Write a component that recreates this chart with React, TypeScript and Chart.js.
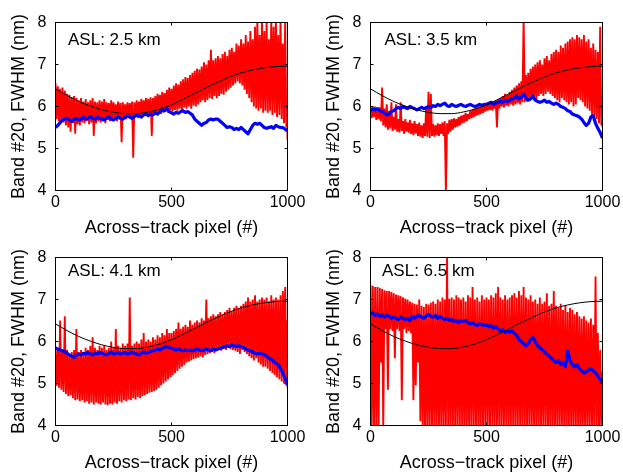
import React, { useEffect, useRef } from "react";
import { Chart, registerables } from "chart.js";

Chart.register(...registerables);

const FONT = '"Liberation Sans", Arial, Helvetica, sans-serif';
const X_TITLE = "Across\u2212track pixel (#)";
const Y_TITLE = "Band #20, FWHM (nm)";
const X_TICKS = [0, 500, 1000];
const Y_TICKS = [4, 5, 6, 7, 8];

// smooth reference curve, sampled every 50 pixels
const CURVE = [6.42, 6.26, 6.12, 6.01, 5.92, 5.86, 5.83, 5.83, 5.87, 5.94, 6.04,
  6.17, 6.31, 6.45, 6.58, 6.7, 6.8, 6.87, 6.92, 6.95, 6.96];

// red series: upper / lower envelope every 10 pixels; blue every 10 pixels
const TL_RED_HI = [6.55, 6.48, 6.42, 6.45, 6.38, 6.3, 6.28, 6.22, 6.25, 6.2,
  6.15, 6.2, 6.12, 6.18, 6.1, 6.15, 6.2, 6.12, 6.1, 6.15,
  6.12, 6.18, 6.1, 6.08, 6.15, 6.1, 6.05, 6.12, 6.08, 6.1,
  6.05, 6.1, 6.08, 6.12, 6.1, 6.15, 6.12, 6.18, 6.15, 6.2,
  6.18, 6.22, 6.2, 6.25, 6.3, 6.28, 6.35, 6.32, 6.4, 6.45,
  6.42, 6.5, 6.55, 6.52, 6.6, 6.65, 6.7, 6.68, 6.75, 6.8,
  6.85, 6.9, 6.88, 6.95, 7.05, 7.0, 7.1, 7.35, 7.1, 7.15,
  7.2, 7.15, 7.25, 7.3, 7.2, 7.35, 7.4, 7.3, 7.5, 7.45,
  7.6, 7.5, 7.7, 7.55, 7.8, 7.6, 7.9, 8.1, 7.7, 8.1,
  7.8, 8.1, 7.6, 8.1, 7.9, 8.1, 7.7, 8.1, 7.5, 8.1, 6.0];
const TL_RED_LO = [5.7, 5.65, 5.6, 5.62, 5.55, 5.5, 5.4, 5.6, 5.35, 5.58,
  5.55, 5.62, 5.6, 5.65, 5.58, 5.62, 5.3, 5.6, 5.65, 5.62,
  5.65, 5.6, 5.68, 5.65, 5.7, 5.68, 5.65, 5.7, 5.15, 5.72,
  5.7, 5.75, 5.72, 4.78, 5.75, 5.72, 5.78, 5.75, 5.8, 5.78,
  5.8, 5.3, 5.82, 5.8, 5.85, 5.82, 5.85, 5.88, 5.85, 5.9,
  5.88, 5.92, 5.9, 5.95, 5.92, 5.98, 5.95, 6.0, 5.95, 6.02,
  6.0, 6.05, 6.1, 6.15, 6.1, 6.15, 6.2, 6.18, 6.25, 6.2,
  6.25, 6.3, 6.28, 6.35, 6.4, 6.45, 6.5, 6.55, 6.6, 6.55,
  6.5, 6.4, 6.3, 6.2, 6.1, 6.0, 5.95, 5.9, 5.95, 5.85,
  5.9, 5.85, 5.9, 5.8, 5.85, 5.75, 5.8, 5.7, 5.6, 5.5, 5.2];
const TL_BLUE = [5.5, 5.55, 5.62, 5.68, 5.7, 5.72, 5.68, 5.65, 5.7, 5.72,
  5.68, 5.7, 5.74, 5.7, 5.72, 5.76, 5.72, 5.7, 5.74, 5.72,
  5.7, 5.68, 5.72, 5.75, 5.7, 5.68, 5.72, 5.75, 5.72, 5.7,
  5.74, 5.78, 5.75, 5.72, 5.76, 5.8, 5.78, 5.75, 5.8, 5.82,
  5.78, 5.82, 5.8, 5.85, 5.82, 5.88, 5.92, 5.9, 5.95, 5.88,
  5.85, 5.82, 5.86, 5.84, 5.88, 5.9, 5.86, 5.88, 5.84, 5.8,
  5.7, 5.65, 5.6, 5.55, 5.6, 5.62, 5.68, 5.7, 5.68, 5.7,
  5.7, 5.65, 5.6, 5.55, 5.5, 5.52, 5.5, 5.45, 5.48, 5.45,
  5.5, 5.45, 5.4, 5.35, 5.45, 5.55, 5.6, 5.58, 5.6, 5.55,
  5.5, 5.48, 5.5, 5.52, 5.48, 5.55, 5.52, 5.5, 5.5, 5.46, 5.42];

const TR_RED_HI = [5.98, 5.95, 6.0, 5.95, 5.98, 6.45, 5.95, 6.05, 5.9, 6.1,
  5.75, 6.05, 5.7, 6.1, 5.65, 5.7, 5.62, 5.68, 5.6, 5.65,
  5.58, 5.62, 5.55, 5.6, 6.0, 6.35, 6.3, 5.58, 5.55, 5.6,
  5.58, 5.62, 5.65, 5.6, 5.68, 5.7, 5.72, 5.7, 5.75, 5.78,
  5.8, 5.85, 5.82, 5.9, 5.92, 5.95, 5.98, 6.0, 6.02, 6.05,
  6.08, 6.1, 6.12, 6.1, 6.15, 6.18, 6.2, 6.25, 6.3, 6.28,
  6.35, 6.4, 6.45, 6.5, 6.55, 6.6, 8.1, 6.75, 6.8, 6.9,
  6.95, 7.0, 7.05, 7.1, 7.0, 7.15, 7.2, 7.1, 7.25, 7.3,
  7.35, 7.3, 7.45, 7.4, 7.5, 7.55, 7.6, 7.65, 7.6, 7.7,
  7.65, 7.6, 7.7, 7.55, 7.6, 7.4, 7.5, 7.35, 7.3, 7.9, 5.6];
const TR_RED_LO = [5.72, 5.75, 5.68, 5.7, 5.65, 5.55, 5.5, 5.45, 5.48, 5.42,
  5.45, 5.4, 5.38, 5.42, 5.35, 5.4, 5.38, 5.35, 5.32, 5.36,
  5.3, 5.28, 5.25, 5.3, 5.28, 5.25, 5.3, 5.28, 5.32, 5.3,
  5.35, 5.3, 3.95, 5.35, 5.4, 5.45, 5.5, 5.52, 5.55, 5.6,
  5.62, 5.65, 5.7, 5.72, 5.75, 5.78, 5.8, 5.82, 5.85, 5.88,
  5.9, 5.92, 5.9, 5.95, 5.5, 5.95, 6.0, 5.98, 6.02, 6.0,
  6.05, 6.02, 6.05, 6.08, 6.05, 6.1, 6.1, 6.12, 6.15, 6.2,
  6.2, 6.15, 6.25, 6.3, 6.25, 6.3, 6.35, 6.3, 6.25, 6.2,
  6.15, 6.1, 6.2, 6.15, 6.1, 6.05, 6.1, 6.0, 6.05, 6.2,
  6.15, 6.1, 6.0, 5.95, 5.9, 5.8, 5.75, 5.7, 5.6, 5.55, 5.5];
const TR_BLUE = [5.9, 5.95, 5.92, 5.95, 5.9, 5.88, 5.85, 5.8, 5.82, 5.88,
  5.9, 5.95, 5.98, 5.95, 6.0, 5.97, 5.95, 6.0, 5.97, 5.95,
  5.92, 5.95, 5.98, 5.95, 5.97, 6.0, 5.98, 6.02, 6.0, 6.05,
  6.02, 6.05, 6.08, 6.02, 6.0, 6.05, 6.02, 6.0, 6.03, 6.05,
  6.02, 6.0, 6.03, 6.05, 6.02, 6.0, 6.02, 6.05, 6.03, 6.05,
  6.05, 6.08, 6.1, 6.05, 6.08, 6.1, 6.12, 6.1, 6.15, 6.12,
  6.15, 6.18, 6.2, 6.25, 6.18, 6.22, 6.3, 6.2, 6.15, 6.18,
  6.25, 6.15, 6.12, 6.1, 6.12, 6.15, 6.1, 6.12, 6.08, 6.05,
  6.08, 6.05, 6.0, 5.98, 5.95, 5.9, 5.88, 5.82, 5.8, 5.78,
  5.75, 5.7, 5.62, 5.55, 5.6, 5.75, 5.78, 5.6, 5.48, 5.38, 5.25];

const BL_RED_HI = [5.85, 5.8, 6.5, 5.75, 6.6, 5.8, 5.7, 5.75, 5.8, 6.3,
  5.75, 5.8, 5.7, 5.85, 5.8, 5.9, 6.1, 5.85, 5.8, 5.9,
  5.85, 5.9, 5.8, 5.85, 6.0, 5.85, 6.3, 5.9, 5.85, 5.95,
  5.9, 5.95, 7.05, 5.9, 5.95, 6.0, 5.95, 6.05, 6.2, 6.0,
  6.05, 6.0, 6.1, 6.05, 6.15, 6.1, 6.2, 6.15, 6.3, 6.2,
  6.2, 6.25, 6.3, 6.45, 6.3, 6.35, 6.4, 6.35, 6.5, 6.4,
  6.45, 6.5, 6.45, 6.55, 6.5, 7.0, 6.55, 6.6, 6.65, 6.6,
  6.65, 6.7, 6.65, 6.7, 6.75, 6.8, 6.72, 6.8, 6.85, 6.8,
  6.85, 6.9, 6.95, 7.05, 6.95, 7.0, 7.1, 6.95, 7.0, 7.05,
  7.0, 7.05, 6.95, 7.1, 7.0, 7.05, 7.0, 7.1, 7.2, 7.3, 6.5];
const BL_RED_LO = [4.95, 4.9, 4.85, 4.8, 4.75, 4.7, 4.72, 4.65, 4.6, 4.62,
  4.58, 4.6, 4.55, 4.58, 4.52, 4.55, 4.5, 4.55, 4.52, 4.5,
  4.55, 4.5, 4.48, 4.52, 4.5, 4.55, 4.52, 4.58, 4.55, 4.6,
  4.58, 4.62, 4.6, 4.65, 4.62, 4.68, 4.65, 4.7, 4.72, 4.75,
  4.78, 4.8, 4.82, 4.85, 4.9, 4.95, 5.0, 5.05, 5.1, 5.15,
  5.2, 5.25, 5.3, 5.35, 5.4, 5.45, 5.5, 5.52, 5.55, 5.58,
  5.6, 5.62, 5.65, 5.62, 5.68, 5.7, 5.72, 5.75, 5.72, 5.78,
  5.8, 5.78, 5.82, 5.8, 5.85, 5.82, 5.8, 5.78, 5.75, 5.7,
  5.8, 5.75, 5.7, 5.65, 5.6, 5.55, 5.6, 5.5, 5.45, 5.4,
  5.4, 5.35, 5.3, 5.25, 5.2, 5.15, 5.1, 5.05, 5.0, 4.95, 4.9];
const BL_BLUE = [5.85, 5.82, 5.8, 5.78, 5.75, 5.72, 5.68, 5.65, 5.62, 5.68,
  5.7, 5.68, 5.72, 5.7, 5.74, 5.7, 5.68, 5.72, 5.7, 5.74,
  5.72, 5.7, 5.68, 5.72, 5.75, 5.7, 5.72, 5.74, 5.7, 5.72,
  5.74, 5.7, 5.72, 5.75, 5.72, 5.7, 5.68, 5.72, 5.75, 5.72,
  5.74, 5.76, 5.78, 5.8, 5.82, 5.8, 5.84, 5.86, 5.88, 5.86,
  5.84, 5.82, 5.8, 5.82, 5.8, 5.78, 5.8, 5.78, 5.8, 5.78,
  5.8, 5.82, 5.8, 5.78, 5.8, 5.82, 5.8, 5.78, 5.82, 5.8,
  5.82, 5.84, 5.86, 5.88, 5.9, 5.88, 5.92, 5.9, 5.88, 5.9,
  5.88, 5.86, 5.82, 5.8, 5.78, 5.75, 5.72, 5.7, 5.72, 5.7,
  5.68, 5.65, 5.6, 5.58, 5.52, 5.48, 5.45, 5.35, 5.25, 5.12, 4.97];

const BR_RED_HI = [7.35, 7.32, 7.3, 7.3, 7.28, 7.25, 7.22, 7.2, 7.2, 7.18,
  7.15, 7.12, 7.1, 7.08, 7.05, 7.02, 7.0, 6.95, 6.92, 6.9,
  6.88, 7.0, 6.85, 6.82, 6.9, 6.88, 6.92, 6.95, 6.9, 7.0,
  6.95, 7.05, 7.0, 8.1, 7.02, 7.05, 7.0, 7.1, 7.05, 7.0,
  7.05, 6.95, 7.1, 7.05, 7.3, 7.0, 7.05, 6.95, 7.1, 7.0,
  7.05, 7.0, 7.1, 7.05, 7.15, 7.3, 7.05, 7.0, 7.1, 7.0,
  7.05, 7.1, 7.15, 7.05, 7.2, 7.1, 7.3, 7.05, 7.0, 7.1,
  6.95, 7.0, 6.9, 7.05, 6.9, 6.95, 7.15, 6.85, 6.9, 7.2,
  6.85, 6.8, 6.9, 6.75, 6.85, 6.7, 6.8, 6.75, 6.65, 6.7,
  6.6, 6.55, 6.6, 6.5, 6.45, 6.55, 6.4, 7.55, 6.2, 5.8, 5.3];
const BR_RED_LO = [3.9, 3.9, 3.9, 3.9, 5.5, 3.9, 6.3, 4.85, 6.3, 6.25,
  5.6, 6.3, 6.25, 4.6, 6.3, 6.2, 6.25, 6.2, 4.6, 4.95,
  5.5, 4.1, 3.9, 3.9, 3.9, 3.9, 3.9, 3.9, 3.9, 3.9,
  3.9, 3.9, 3.9, 3.9, 3.9, 3.9, 3.9, 3.9, 3.9, 3.9,
  3.9, 3.9, 3.9, 3.9, 3.9, 3.9, 3.9, 3.9, 3.9, 3.9,
  3.9, 3.9, 3.9, 3.9, 3.9, 3.9, 3.9, 3.9, 3.9, 3.9,
  3.9, 3.9, 3.9, 3.9, 3.9, 3.9, 3.9, 3.9, 3.9, 3.9,
  3.9, 3.9, 3.9, 3.9, 3.9, 3.9, 3.9, 3.9, 3.9, 3.9,
  3.9, 3.9, 3.9, 3.9, 3.9, 3.9, 3.9, 3.9, 3.9, 3.9,
  3.9, 3.9, 3.9, 3.9, 3.9, 3.9, 3.9, 3.9, 3.9, 3.9, 3.9];
const BR_BLUE = [6.65, 6.68, 6.62, 6.65, 6.6, 6.63, 6.58, 6.62, 6.6, 6.55,
  6.58, 6.55, 6.52, 6.58, 6.55, 6.52, 6.55, 6.5, 6.6, 6.55,
  6.6, 6.62, 6.58, 6.55, 6.6, 6.65, 6.6, 6.58, 6.62, 6.55,
  6.6, 6.55, 6.52, 6.55, 6.5, 6.52, 6.48, 6.5, 6.45, 6.5,
  6.48, 6.5, 6.45, 6.42, 6.45, 6.4, 6.38, 6.42, 6.4, 6.38,
  6.4, 6.35, 6.38, 6.32, 6.35, 6.3, 6.25, 6.28, 6.22, 6.25,
  6.22, 6.25, 6.2, 6.15, 6.05, 6.0, 5.95, 5.9, 5.95, 6.05,
  6.1, 6.0, 5.9, 5.85, 5.8, 5.75, 5.7, 5.65, 5.6, 5.55,
  5.5, 5.55, 5.45, 5.5, 5.4, 5.78, 5.55, 5.45, 5.4, 5.45,
  5.35, 5.3, 5.25, 5.28, 5.32, 5.35, 5.3, 5.25, 5.18, 5.1, 5.02];

const STEP = 10;
const CURVE_STEP = 50;

type PanelSpec = {
  label: string;
  left: number;
  top: number;
  hi: number[];
  lo: number[];
  blue: number[];
  labelDx: number;
  labelDy: number;
};

const PANELS: PanelSpec[] = [
  { label: "ASL: 2.5 km", left: 0, top: 0, hi: TL_RED_HI, lo: TL_RED_LO, blue: TL_BLUE, labelDx: 12.5, labelDy: 22.8 },
  { label: "ASL: 3.5 km", left: 315, top: 0, hi: TR_RED_HI, lo: TR_RED_LO, blue: TR_BLUE, labelDx: 14, labelDy: 22.8 },
  { label: "ASL: 4.1 km", left: 0, top: 235, hi: BL_RED_HI, lo: BL_RED_LO, blue: BL_BLUE, labelDx: 12.5, labelDy: 18.7 },
  { label: "ASL: 6.5 km", left: 315, top: 235, hi: BR_RED_HI, lo: BR_RED_LO, blue: BR_BLUE, labelDx: 11.5, labelDy: 18.7 },
];

const CW = 315;
const CH = 245;

function Panel({ spec }: { spec: PanelSpec }) {
  const ref = useRef<HTMLCanvasElement | null>(null);
  useEffect(() => {
    if (!ref.current) return;
    const redPts: { x: number; y: number }[] = [];
    spec.hi.forEach((h, i) => {
      redPts.push({ x: i * STEP, y: h });
      redPts.push({ x: Math.min(i * STEP + STEP / 2, 1000), y: spec.lo[i] });
    });
    const bluePts = spec.blue.map((v, i) => ({ x: i * STEP, y: v }));
    const curvePts = CURVE.map((v, i) => ({ x: i * CURVE_STEP, y: v }));

    const frame = {
      id: "frame",
      afterDraw(chart: any) {
        const { ctx, chartArea: a, scales } = chart;
        ctx.save();
        ctx.strokeStyle = "#000";
        ctx.lineWidth = 1;
        ctx.strokeRect(a.left, a.top, a.right - a.left, a.bottom - a.top);
        const L = 3;
        ctx.beginPath();
        scales.x.ticks.forEach((t: any) => {
          const px = scales.x.getPixelForValue(t.value);
          ctx.moveTo(px, a.bottom);
          ctx.lineTo(px, a.bottom - L);
          ctx.moveTo(px, a.top);
          ctx.lineTo(px, a.top + L);
        });
        scales.y.ticks.forEach((t: any) => {
          const py = scales.y.getPixelForValue(t.value);
          ctx.moveTo(a.left, py);
          ctx.lineTo(a.left + L, py);
          ctx.moveTo(a.right, py);
          ctx.lineTo(a.right - L, py);
        });
        ctx.stroke();
        ctx.fillStyle = "#000";
        ctx.font = `17px ${FONT}`;
        ctx.textAlign = "left";
        ctx.textBaseline = "alphabetic";
        ctx.fillText(spec.label, a.left + spec.labelDx, a.top + spec.labelDy);
        ctx.restore();
      },
    };

    const chart = new Chart(ref.current, {
      type: "line",
      data: {
        datasets: [
          { data: curvePts, borderColor: "#000000", borderWidth: 1, pointRadius: 0, cubicInterpolationMode: "monotone", order: 1 } as any,
          { data: bluePts, borderColor: "#0000ff", borderWidth: 3.2, pointRadius: 0, tension: 0, borderJoinStyle: "round", order: 2 } as any,
          { data: redPts, borderColor: "#ff0000", borderWidth: 1.9, pointRadius: 0, tension: 0, borderJoinStyle: "bevel", order: 3 } as any,
        ],
      },
      options: {
        responsive: false,
        animation: false,
        events: [],
        layout: { padding: { top: 22.5, right: 27.5, left: 0, bottom: 0 } },
        plugins: { legend: { display: false }, tooltip: { enabled: false } },
        scales: {
          x: {
            type: "linear",
            min: X_TICKS[0],
            max: X_TICKS[X_TICKS.length - 1],
            border: { display: false },
            grid: { display: false, drawTicks: false },
            afterBuildTicks: (s: any) => { s.ticks = X_TICKS.map((v) => ({ value: v })); },
            ticks: { autoSkip: false, maxRotation: 0, padding: 2, color: "#000", font: { family: FONT, size: 16 }, callback: (v: any) => String(v) },
            title: { display: true, text: X_TITLE, color: "#000", font: { family: FONT, size: 18 }, padding: { top: 0, bottom: 5.7 } },
            afterFit: (s: any) => { s.height = CH - 190.5; },
          },
          y: {
            type: "linear",
            min: Y_TICKS[0],
            max: Y_TICKS[Y_TICKS.length - 1],
            border: { display: false },
            grid: { display: false, drawTicks: false },
            afterBuildTicks: (s: any) => { s.ticks = Y_TICKS.map((v) => ({ value: v })); },
            ticks: { autoSkip: false, padding: 9, color: "#000", font: { family: FONT, size: 16 }, callback: (v: any) => String(v) },
            title: { display: true, text: Y_TITLE, color: "#000", font: { family: FONT, size: 18 }, padding: { top: 8.2, bottom: 0 } },
            afterFit: (s: any) => { s.width = 55.5; },
          },
        },
      } as any,
      plugins: [frame],
    });
    return () => chart.destroy();
  }, [spec]);

  return (
    <canvas
      ref={ref}
      width={CW}
      height={CH}
      style={{ position: "absolute", left: spec.left, top: spec.top, width: CW, height: CH, display: "block" }}
    />
  );
}

export default function App() {
  return (
    <div style={{ position: "absolute", left: 0, top: 0, width: 623, height: 472, overflow: "hidden", background: "#fff" }}>
      {PANELS.map((p) => (
        <Panel key={p.label} spec={p} />
      ))}
    </div>
  );
}
